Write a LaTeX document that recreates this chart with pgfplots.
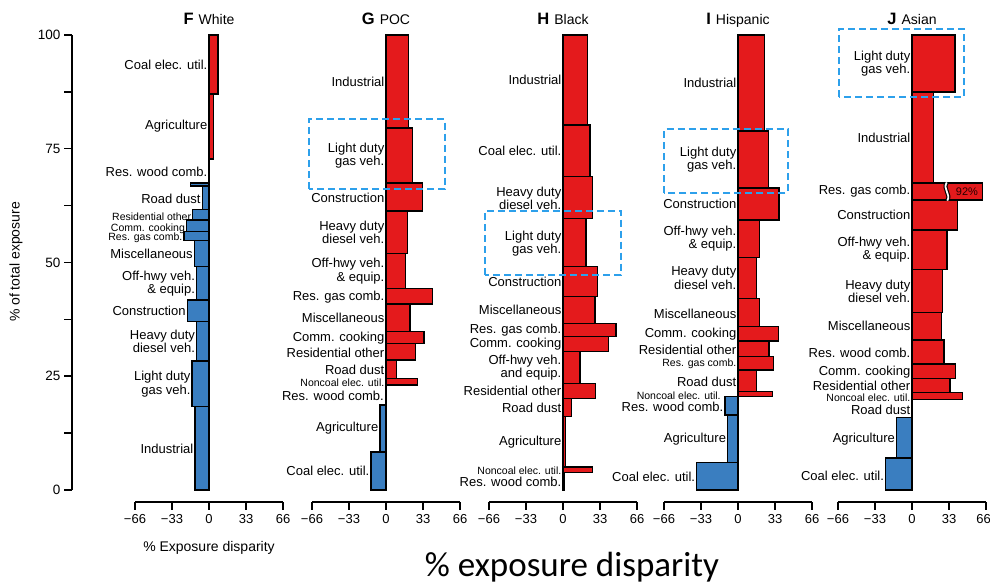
\documentclass[border=0pt]{standalone}
\usepackage{pgfplots}
\pgfplotsset{compat=1.18}
\usepackage{fontspec}
\setmainfont{Liberation Sans}
\newfontfamily\carlito{Carlito}
\definecolor{barred}{RGB}{228,26,28}
\definecolor{barblue}{RGB}{58,126,192}
\definecolor{boxblue}{RGB}{45,160,235}
\newcommand{\R}{\fontsize{13}{13.5}\selectfont}
\newcommand{\Sm}{\fontsize{10.5}{11}\selectfont}
% bar: lo, hi, value, colour
\newcommand{\hb}[4]{\addplot[draw=black, line width=1.5pt, fill=#4, line join=miter, mark=none] coordinates {(0,#1) (#3,#1) (#3,#2) (0,#2)} --cycle;}
% label: x anchor, y, text, font
\newcommand{\lb}[4]{\node[anchor=east, align=right, inner sep=1.5pt, font=#4] at (axis cs:#1,#2) {#3};}
\newcommand{\ttl}[2]{\node[anchor=base, inner sep=0pt] at (axis cs:0,100) [yshift=10pt] {{\fontsize{16.5}{16.5}\selectfont\bfseries #1}\hspace{5pt}{\fontsize{14}{14}\selectfont #2}};}
\newcommand{\dbox}[4]{\draw[boxblue, line width=2.2pt, dash pattern=on 7pt off 4pt] (axis cs:#1,#2) rectangle (axis cs:#3,#4);}
\pgfplotsset{panel/.style={scale only axis, width=148pt, height=467pt,
  xmin=-66, xmax=66, ymin=-2.64, ymax=100, anchor=south west,
  axis x line=bottom, axis y line=none, clip=false,
  xtick={-66,-33,0,33,66}, xticklabels={−66,−33,0,33,66},
  tick align=outside, major tick length=8pt,
  axis line style={line width=1.5pt, -},
  every tick/.style={black, line width=1.5pt},
  xticklabel style={font=\fontsize{13}{13}\selectfont, yshift=-1pt}}}
\begin{document}
\begin{tikzpicture}
\useasboundingbox (0,0) rectangle (990pt,584pt);
% y axis
\begin{axis}[scale only axis, width=10pt, height=455pt, at={(72pt,94pt)}, anchor=south west,
  xmin=0, xmax=1, ymin=0, ymax=100, axis y line=left, axis x line=none,
  ytick={0,25,50,75,100}, yticklabels={0,25,50,75,100},
  minor ytick={12.5,37.5,62.5,87.5},
  tick align=outside, major tick length=8pt, minor tick length=8pt,
  axis line style={line width=1.5pt, -},
  every tick/.style={black, line width=1.5pt},
  yticklabel style={font=\fontsize{13.5}{13.5}\selectfont}]
\addplot[draw=none, mark=none] coordinates {(0,0)};
\end{axis}
\node[rotate=90, font=\fontsize{14}{14}\selectfont] at (16pt,322pt) {\% of total exposure};
% F White
\begin{axis}[panel, at={(135pt,82pt)}]
\hb{87.0}{100}{8}{barred}
\hb{72.7}{87.0}{4}{barred}
\hb{67.5}{72.7}{0.5}{barred}
\hb{66.8}{67.5}{-16.3}{barblue}
\hb{61.7}{66.8}{-6}{barblue}
\hb{59.3}{61.7}{-14.5}{barblue}
\hb{56.8}{59.3}{-20}{barblue}
\hb{54.8}{56.8}{-22.3}{barblue}
\hb{49.1}{54.8}{-13}{barblue}
\hb{41.8}{49.1}{-11}{barblue}
\hb{37.0}{41.8}{-19.4}{barblue}
\hb{28.4}{37.0}{-11}{barblue}
\hb{18.3}{28.4}{-15}{barblue}
\hb{0}{18.3}{-12.5}{barblue}
\lb{0}{93.5}{Coal elec. util.}{\R}
\lb{0}{79.9}{Agriculture}{\R}
\lb{0}{70.0}{Res. wood comb.}{\R}
\lb{-6}{63.9}{Road dust}{\R}
\lb{-14.5}{60.0}{Residential other}{\Sm}
\lb{-20}{57.5}{Comm. cooking}{\Sm}
\lb{-22.3}{55.4}{Res. gas comb.}{\Sm}
\lb{-13}{51.8}{Miscellaneous}{\R}
\lb{-11}{45.4}{Off-hwy veh.\\\& equip.}{\R}
\lb{-19.4}{39.4}{Construction}{\R}
\lb{-11}{32.7}{Heavy duty\\diesel veh.}{\R}
\lb{-15}{23.3}{Light duty\\gas veh.}{\R}
\lb{-12.5}{9.1}{Industrial}{\R}
\ttl{F}{White}
\end{axis}
\node[font=\fontsize{14}{14}\selectfont] at (209pt,36pt) {\% Exposure disparity};
% G POC
\begin{axis}[panel, at={(312pt,82pt)}]
\hb{79.6}{100}{19.9}{barred}
\hb{67.5}{79.6}{23.8}{barred}
\hb{61.3}{67.5}{32.4}{barred}
\hb{52.0}{61.3}{19}{barred}
\hb{44.3}{52.0}{17.5}{barred}
\hb{40.9}{44.3}{41.3}{barred}
\hb{34.8}{40.9}{21.4}{barred}
\hb{32.2}{34.8}{33.9}{barred}
\hb{28.6}{32.2}{26.5}{barred}
\hb{24.5}{28.6}{9.5}{barred}
\hb{23.1}{24.5}{27.9}{barred}
\hb{18.7}{23.1}{-0.5}{barblue}
\hb{8.4}{18.7}{-5.4}{barblue}
\hb{0}{8.4}{-13.4}{barblue}
\lb{0}{89.8}{Industrial}{\R}
\lb{0}{73.5}{Light duty\\gas veh.}{\R}
\lb{0}{64.3}{Construction}{\R}
\lb{0}{56.6}{Heavy duty\\diesel veh.}{\R}
\lb{0}{48.1}{Off-hwy veh.\\\& equip.}{\R}
\lb{0}{42.4}{Res. gas comb.}{\R}
\lb{0}{37.8}{Miscellaneous}{\R}
\lb{0}{33.3}{Comm. cooking}{\R}
\lb{0}{30.2}{Residential other}{\R}
\lb{0}{26.3}{Road dust}{\R}
\lb{0}{23.6}{Noncoal elec. util.}{\Sm}
\lb{-0.5}{20.6}{Res. wood comb.}{\R}
\lb{-5.4}{13.5}{Agriculture}{\R}
\lb{-13.4}{4.2}{Coal elec. util.}{\R}
\dbox{-68.7}{66.2}{52.6}{81.5}
\ttl{G}{POC}
\end{axis}
% H Black
\begin{axis}[panel, at={(489pt,82pt)}]
\hb{80.2}{100}{22}{barred}
\hb{68.9}{80.2}{24.1}{barred}
\hb{59.7}{68.9}{26.2}{barred}
\hb{49.1}{59.7}{20.5}{barred}
\hb{42.5}{49.1}{30.6}{barred}
\hb{36.6}{42.5}{28.5}{barred}
\hb{33.7}{36.6}{47.3}{barred}
\hb{30.4}{33.7}{40.4}{barred}
\hb{23.4}{30.4}{15.2}{barred}
\hb{20.1}{23.4}{29.1}{barred}
\hb{16.1}{20.1}{7.7}{barred}
\hb{5.1}{16.1}{2}{barred}
\hb{3.8}{5.1}{26.5}{barred}
\hb{0}{3.8}{1.2}{barred}
\lb{0}{90.1}{Industrial}{\R}
\lb{0}{74.5}{Coal elec. util.}{\R}
\lb{0}{64.1}{Heavy duty\\diesel veh.}{\R}
\lb{0}{54.1}{Light duty\\gas veh.}{\R}
\lb{0}{45.8}{Construction}{\R}
\lb{0}{39.5}{Miscellaneous}{\R}
\lb{0}{35.1}{Res. gas comb.}{\R}
\lb{0}{32.0}{Comm. cooking}{\R}
\lb{0}{26.9}{Off-hwy veh.\\and equip.}{\R}
\lb{0}{21.7}{Residential other}{\R}
\lb{0}{18.1}{Road dust}{\R}
\lb{0}{10.5}{Agriculture}{\R}
\lb{0}{4.3}{Noncoal elec. util.}{\Sm}
\lb{0}{1.7}{Res. wood comb.}{\R}
\dbox{-69.6}{47.3}{51.5}{61.4}
\ttl{H}{Black}
\end{axis}
% I Hispanic
\begin{axis}[panel, at={(664pt,82pt)}]
\hb{78.9}{100}{23.5}{barred}
\hb{66.4}{78.9}{27}{barred}
\hb{59.3}{66.4}{36.6}{barred}
\hb{51.1}{59.3}{19}{barred}
\hb{42.1}{51.1}{16.7}{barred}
\hb{35.9}{42.1}{19}{barred}
\hb{32.8}{35.9}{36}{barred}
\hb{29.3}{32.8}{27.6}{barred}
\hb{26.4}{29.3}{31.5}{barred}
\hb{21.6}{26.4}{16.7}{barred}
\hb{20.5}{21.6}{30.6}{barred}
\hb{16.5}{20.5}{-11.6}{barblue}
\hb{6.0}{16.5}{-9.2}{barblue}
\hb{0}{6.0}{-36.8}{barblue}
\lb{0}{89.4}{Industrial}{\R}
\lb{0}{72.6}{Light duty\\gas veh.}{\R}
\lb{0}{62.8}{Construction}{\R}
\lb{0}{55.2}{Off-hwy veh.\\\& equip.}{\R}
\lb{0}{46.6}{Heavy duty\\diesel veh.}{\R}
\lb{0}{38.8}{Miscellaneous}{\R}
\lb{0}{34.2}{Comm. cooking}{\R}
\lb{0}{30.9}{Residential other}{\R}
\lb{0}{27.7}{Res. gas comb.}{\Sm}
\lb{0}{23.8}{Road dust}{\R}
\lb{-14}{20.7}{Noncoal elec. util.}{\Sm}
\lb{-11.6}{18.2}{Res. wood comb.}{\R}
\lb{-9.2}{11.1}{Agriculture}{\R}
\lb{-36.8}{2.8}{Coal elec. util.}{\R}
\dbox{-65.7}{65.3}{44.3}{79.3}
\ttl{I}{Hispanic}
\end{axis}
% J Asian
\begin{axis}[panel, at={(838pt,82pt)}, xticklabels={−66,−33,0,33,66\kern5pt}]
\hb{87.5}{100}{38.4}{barred}
\hb{67.5}{87.5}{19}{barred}
\hb{63.7}{67.5}{63}{barred}
\hb{57.1}{63.7}{40.4}{barred}
\hb{48.5}{57.1}{31}{barred}
\hb{39.0}{48.5}{27}{barred}
\hb{33.0}{39.0}{26.5}{barred}
\hb{27.7}{33.0}{28.5}{barred}
\hb{24.5}{27.7}{39}{barred}
\hb{21.4}{24.5}{33.9}{barred}
\hb{19.9}{21.4}{44.9}{barred}
\hb{15.9}{19.9}{0.3}{barred}
\hb{7.0}{15.9}{-13.7}{barblue}
\hb{0}{7.0}{-23.5}{barblue}
\draw[black, line width=4pt] (axis cs:31,67.5) .. controls (axis cs:27,66.2) and (axis cs:35,65.0) .. (axis cs:31.5,63.7);
\draw[white, line width=1.8pt] (axis cs:31,67.6) .. controls (axis cs:27,66.2) and (axis cs:35,65.0) .. (axis cs:31.5,63.6);
\node[font=\fontsize{11}{11}\selectfont, text=black!85!red] at (axis cs:49,65.6) {92\%};
\lb{0}{93.7}{Light duty\\gas veh.}{\R}
\lb{0}{77.5}{Industrial}{\R}
\lb{0}{65.6}{Res. gas comb.}{\R}
\lb{0}{60.4}{Construction}{\R}
\lb{0}{52.8}{Off-hwy veh.\\\& equip.}{\R}
\lb{0}{43.7}{Heavy duty\\diesel veh.}{\R}
\lb{0}{36.0}{Miscellaneous}{\R}
\lb{0}{30.1}{Res. wood comb.}{\R}
\lb{0}{26.0}{Comm. cooking}{\R}
\lb{0}{22.8}{Residential other}{\R}
\lb{0}{20.3}{Noncoal elec. util.}{\Sm}
\lb{0}{17.7}{Road dust}{\R}
\lb{-13.7}{11.2}{Agriculture}{\R}
\lb{-23.5}{3.0}{Coal elec. util.}{\R}
\dbox{-65.1}{86.4}{46.4}{101.3}
\ttl{J}{Asian}
\end{axis}
\node[font=\carlito\fontsize{35}{35}\selectfont] at (572pt,17pt) {\% exposure disparity};
\end{tikzpicture}
\end{document}
